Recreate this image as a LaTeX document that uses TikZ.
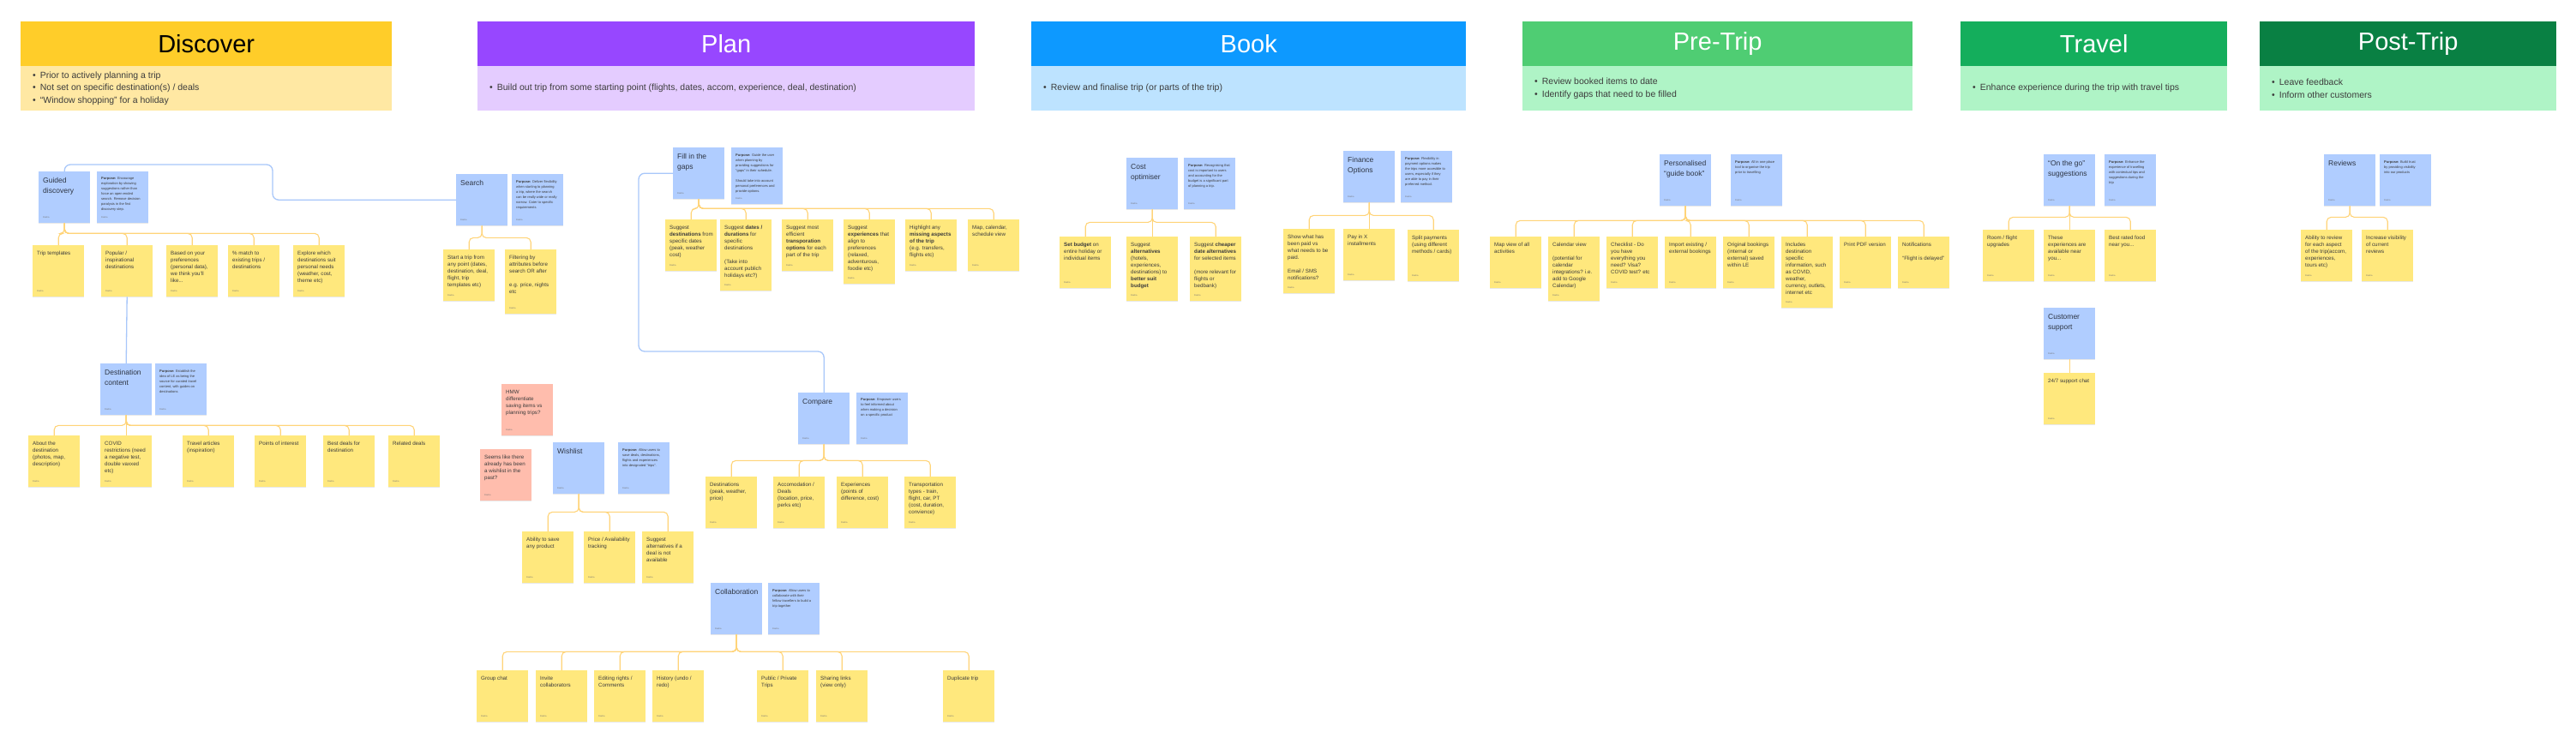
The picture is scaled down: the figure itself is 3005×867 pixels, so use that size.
\documentclass[tikz,border=0pt]{standalone}
\usepackage{fontspec}
\setmainfont{Liberation Sans}
\usetikzlibrary{shadows}
\definecolor{stY}{RGB}{255,232,125}
\definecolor{stB}{RGB}{176,205,255}
\definecolor{stS}{RGB}{255,189,173}
\definecolor{conY}{RGB}{255,212,120}
\definecolor{conB}{RGB}{168,199,250}
\definecolor{txtc}{RGB}{60,60,60}
\definecolor{ttlc}{RGB}{45,52,66}
\definecolor{dY}{RGB}{255,205,41}\definecolor{lY}{RGB}{255,232,163}
\definecolor{dP}{RGB}{151,71,255}\definecolor{lP}{RGB}{228,204,255}
\definecolor{dB}{RGB}{13,153,255}\definecolor{lB}{RGB}{189,227,255}
\definecolor{dG1}{RGB}{79,205,115}\definecolor{dG2}{RGB}{20,174,92}
\definecolor{dG3}{RGB}{9,128,67}\definecolor{lG}{RGB}{175,244,198}
\newcommand{\stk}[7]{%
  \node[stick,#2,minimum height=#6pt,anchor=north west] (#1) at (#4,-#5) {};
  \node[#3,anchor=north west] (#1t) at ([xshift=5pt,yshift=-7pt]#1.north west) {#7};
  \node[dasha,anchor=south west] (#1d) at ([xshift=5pt,yshift=6pt]#1.south west) {Dasha};
}
\newcommand{\ycon}[3]{\draw[yc] (#1.south) -- ++(0,-#3) -| (#2.north);}
\newcommand{\hdr}[8]{%
  \node[fill=#4, minimum width=#3pt, minimum height=52pt, inner sep=0pt, anchor=north west, text=#7, font=\fontsize{29}{34}\selectfont] (#1) at (#2,-25) {#6};
  \node[fill=#5, minimum width=#3pt, minimum height=52pt, inner sep=0pt, anchor=north west] (#1b) at (#2,-77) {};
  \node[anchor=west, align=left, inner sep=0pt, font=\fontsize{10.5}{14.5}\selectfont, text=txtc] (#1l) at ([xshift=14pt]#1b.west) {#8};
}
\newcommand{\bul}{\textbullet\hspace{5pt}}
\begin{document}
\begin{tikzpicture}[x=1pt,y=1pt,
  stick/.style={draw=none, inner sep=0pt, minimum width=60pt, drop shadow={shadow xshift=0pt, shadow yshift=-1pt, opacity=0.18}},
  yel/.style={fill=stY}, blu/.style={fill=stB}, sal/.style={fill=stS},
  ntxt/.style={inner sep=0pt, align=left, text=txtc, font=\fontsize{6.2}{8}\selectfont},
  ttxt/.style={inner sep=0pt, align=left, text=ttlc, font=\fontsize{8.5}{12}\selectfont},
  ptxt/.style={inner sep=0pt, align=left, text=txtc, font=\fontsize{4}{6}\selectfont},
  dasha/.style={inner sep=0pt, text=black!55, font=\fontsize{2.5}{3}\selectfont},
  yc/.style={draw=conY, line width=1.1pt, rounded corners=5pt},
  bc/.style={draw=conB, line width=1.3pt, rounded corners=7pt}]
\fill[white] (0,0) rectangle (3005,-867);
\useasboundingbox (0,0) rectangle (3005,-867);

% ---------- headers
\hdr{hD}{24}{433}{dY}{lY}{Discover}{black}{\bul Prior to actively planning a trip\\\bul Not set on specific destination(s) / deals\\\bul ``Window shopping'' for a holiday}
\hdr{hP}{557}{580}{dP}{lP}{Plan}{white}{\bul Build out trip from some starting point (flights, dates, accom, experience, deal, destination)}
\hdr{hB}{1203}{507}{dB}{lB}{Book}{white}{\bul Review and finalise trip (or parts of the trip)}
\hdr{hR}{1776}{455}{dG1}{lG}{Pre-Trip}{white}{\bul Review booked items to date\\\bul Identify gaps that need to be filled}
\hdr{hT}{2287}{311}{dG2}{lG}{Travel}{white}{\bul Enhance experience during the trip with travel tips}
\hdr{hO}{2636}{346}{dG3}{lG}{Post-Trip}{white}{\bul Leave feedback\\\bul Inform other customers}

% ---------- connectors (drawn first)
\coordinate (bk1) at (318,-192);
\coordinate (bk2) at (745,-410);

% ---------- Discover
\stk{GD}{blu}{ttxt}{45}{200}{60}{Guided\\discovery}
\stk{GDp}{blu}{ptxt}{113}{200}{60}{\textbf{Purpose:} Encourage\\exploration by showing\\suggestions rather than\\force an open-ended\\search. Remove decision\\paralysis in the first\\discovery step.}
\stk{d1}{yel}{ntxt}{38}{286}{60}{Trip templates}
\stk{d2}{yel}{ntxt}{118}{286}{60}{Popular /\\inspirational\\destinations}
\stk{d3}{yel}{ntxt}{194}{286}{60}{Based on your\\preferences\\(personal data),\\we think you'll\\like...}
\stk{d4}{yel}{ntxt}{266}{286}{60}{\% match to\\existing trips /\\destinations}
\stk{d5}{yel}{ntxt}{342}{286}{60}{Explore which\\destinations suit\\personal needs\\(weather, cost,\\theme etc)}
\stk{DC}{blu}{ttxt}{117}{424}{60}{Destination\\content}
\stk{DCp}{blu}{ptxt}{181}{424}{60}{\textbf{Purpose:} Establish the\\idea of LE as being the\\source for curated travel\\content, with guides on\\destinations}
\stk{e1}{yel}{ntxt}{33}{508}{60}{About the\\destination\\(photos, map,\\description)}
\stk{e2}{yel}{ntxt}{117}{508}{60}{COVID\\restrictions (need\\a negative test,\\double vaxxed\\etc)}
\stk{e3}{yel}{ntxt}{213}{508}{60}{Travel articles\\(inspiration)}
\stk{e4}{yel}{ntxt}{297}{508}{60}{Points of interest}
\stk{e5}{yel}{ntxt}{377}{508}{60}{Best deals for\\destination}
\stk{e6}{yel}{ntxt}{453}{508}{60}{Related deals}

% ---------- Plan
\stk{SR}{blu}{ttxt}{532}{203}{60}{Search}
\stk{SRp}{blu}{ptxt}{597}{203}{60}{\textbf{Purpose:} Deliver flexibility\\when starting to planning\\a trip, where the search\\can be really wide or really\\narrow. Cater to specific\\requirements}
\stk{s1}{yel}{ntxt}{517}{291}{60}{Start a trip from\\any point (dates,\\destination, deal,\\flight, trip\\templates etc)}
\stk{s2}{yel}{ntxt}{589}{291}{75}{Filtering by\\attributes before\\search OR after\\[8pt]e.g. price, nights\\etc}
\stk{FG}{blu}{ttxt}{785}{172}{60}{Fill in the\\gaps}
\stk{FGp}{blu}{ptxt}{853}{172}{66}{\textbf{Purpose:} Guide the user\\when planning by\\providing suggestions for\\``gaps'' in their schedule.\\[6pt]Should take into account\\personal preferences and\\provide options.}
\stk{f1}{yel}{ntxt}{776}{256}{60}{Suggest\\\textbf{destinations} from\\specific dates\\(peak, weather\\cost)}
\stk{f2}{yel}{ntxt}{840}{256}{83}{Suggest \textbf{dates /}\\\textbf{durations} for\\specific\\destinations\\[8pt](Take into\\account publich\\holidays etc?)}
\stk{f3}{yel}{ntxt}{912}{256}{60}{Suggest most\\efficient\\\textbf{transporation}\\\textbf{options} for each\\part of the trip}
\stk{f4}{yel}{ntxt}{984}{256}{75}{Suggest\\\textbf{experiences} that\\align to\\preferences\\(relaxed,\\adventurous,\\foodie etc)}
\stk{f5}{yel}{ntxt}{1056}{256}{60}{Highlight any\\\textbf{missing aspects}\\\textbf{of the trip}\\(e.g. transfers,\\flights etc)}
\stk{f6}{yel}{ntxt}{1129}{256}{60}{Map, calendar,\\schedule view}
\stk{HM}{sal}{ntxt}{585}{448}{60}{HMW\\differentiate\\saving items vs\\planning trips?}
\stk{SL}{sal}{ntxt}{560}{524}{60}{Seems like there\\already has been\\a wishlist in the\\past?}
\stk{WL}{blu}{ttxt}{645}{516}{60}{Wishlist}
\stk{WLp}{blu}{ptxt}{721}{516}{60}{\textbf{Purpose:} Allow users to\\save deals, destinations,\\flights and experiences\\into designated ``trips''.}
\stk{w1}{yel}{ntxt}{609}{620}{60}{Ability to save\\any product}
\stk{w2}{yel}{ntxt}{681}{620}{60}{Price / Availability\\tracking}
\stk{w3}{yel}{ntxt}{749}{620}{60}{Suggest\\alternatives if a\\deal is not\\available}
\stk{CP}{blu}{ttxt}{931}{458}{60}{Compare}
\stk{CPp}{blu}{ptxt}{999}{458}{60}{\textbf{Purpose:} Empower users\\to feel informed about\\when making a decision\\on a specific product}
\stk{c1}{yel}{ntxt}{823}{556}{60}{Destinations\\(peak, weather,\\price)}
\stk{c2}{yel}{ntxt}{902}{556}{60}{Accomodation /\\Deals\\(location, price,\\perks etc)}
\stk{c3}{yel}{ntxt}{976}{556}{60}{Experiences\\(points of\\difference, cost)}
\stk{c4}{yel}{ntxt}{1055}{556}{60}{Transportation\\types - train,\\flight, car, PT\\(cost, duration,\\convience)}
\stk{CL}{blu}{ttxt}{829}{680}{60}{Collaboration}
\stk{CLp}{blu}{ptxt}{896}{680}{60}{\textbf{Purpose:} Allow users to\\collaborate with their\\fellow travellers to build a\\trip together}
\stk{g1}{yel}{ntxt}{556}{782}{60}{Group chat}
\stk{g2}{yel}{ntxt}{625}{782}{60}{Invite\\collaborators}
\stk{g3}{yel}{ntxt}{693}{782}{60}{Editing rights /\\Comments}
\stk{g4}{yel}{ntxt}{761}{782}{60}{History (undo /\\redo)}
\stk{g5}{yel}{ntxt}{883}{782}{60}{Public / Private\\Trips}
\stk{g6}{yel}{ntxt}{952}{782}{60}{Sharing links\\(view only)}
\stk{g7}{yel}{ntxt}{1100}{782}{60}{Duplicate trip}

% ---------- Book
\stk{CO}{blu}{ttxt}{1314}{184}{60}{Cost\\optimiser}
\stk{COp}{blu}{ptxt}{1381}{184}{60}{\textbf{Purpose:} Recognising that\\cost is important to users\\and accounting for the\\budget is a significant part\\of planning a trip.}
\stk{b1}{yel}{ntxt}{1236}{276}{60}{\textbf{Set budget} on\\entire holiday or\\individual items}
\stk{b2}{yel}{ntxt}{1314}{276}{75}{Suggest\\\textbf{alternatives}\\(hotels,\\experiences,\\destinations) to\\\textbf{better suit}\\\textbf{budget}}
\stk{b3}{yel}{ntxt}{1388}{276}{75}{Suggest \textbf{cheaper}\\\textbf{date alternatives}\\for selected items\\[8pt](more relevant for\\flights or\\bedbank)}
\stk{FO}{blu}{ttxt}{1567}{176}{60}{Finance\\Options}
\stk{FOp}{blu}{ptxt}{1634}{176}{60}{\textbf{Purpose:} Flexibility in\\payment options makes\\the trips more accesible to\\users, especially if they\\are able to pay in their\\preferred method.}
\stk{h1}{yel}{ntxt}{1497}{267}{75}{Show what has\\been paid vs\\what needs to be\\paid.\\[8pt]Email / SMS\\notifications?}
\stk{h2}{yel}{ntxt}{1567}{267}{60}{Pay in X\\installments}
\stk{h3}{yel}{ntxt}{1642}{268}{60}{Split payments\\(using different\\methods / cards)}

% ---------- Pre-Trip
\stk{PG}{blu}{ttxt}{1936}{180}{60}{Personalised\\``guide book''}
\stk{PGp}{blu}{ptxt}{2019}{180}{60}{\textbf{Purpose:} All in one place\\tool to organise the trip\\prior to travelling}
\stk{p1}{yel}{ntxt}{1738}{276}{60}{Map view of all\\activities}
\stk{p2}{yel}{ntxt}{1806}{276}{75}{Calendar view\\[8pt](potential for\\calendar\\integrations? i.e.\\add to Google\\Calendar)}
\stk{p3}{yel}{ntxt}{1874}{276}{60}{Checklist - Do\\you have\\everything you\\need? Visa?\\COVID test? etc}
\stk{p4}{yel}{ntxt}{1942}{276}{60}{Import existing /\\external bookings}
\stk{p5}{yel}{ntxt}{2010}{276}{60}{Original bookings\\(internal or\\external) saved\\within LE}
\stk{p6}{yel}{ntxt}{2078}{276}{83}{Includes\\destination\\specific\\information, such\\as COVID,\\weather,\\currency, outlets,\\internet etc}
\stk{p7}{yel}{ntxt}{2146}{276}{60}{Print PDF version}
\stk{p8}{yel}{ntxt}{2214}{276}{60}{Notifications\\[8pt]``Flight is delayed''}

% ---------- Travel
\stk{OG}{blu}{ttxt}{2384}{180}{60}{``On the go''\\suggestions}
\stk{OGp}{blu}{ptxt}{2455}{180}{60}{\textbf{Purpose:} Enhance the\\experience of travelling\\with contextual tips and\\suggestions during the\\trip}
\stk{t1}{yel}{ntxt}{2313}{268}{60}{Room / flight\\upgrades}
\stk{t2}{yel}{ntxt}{2384}{268}{60}{These\\experiences are\\available near\\you...}
\stk{t3}{yel}{ntxt}{2455}{268}{60}{Best rated food\\near you...}
\stk{CS}{blu}{ttxt}{2384}{359}{60}{Customer\\support}
\stk{t4}{yel}{ntxt}{2384}{435}{60}{24/7 support chat}

% ---------- Post-Trip
\stk{RV}{blu}{ttxt}{2711}{180}{60}{Reviews}
\stk{RVp}{blu}{ptxt}{2776}{180}{60}{\textbf{Purpose:} Build trust\\by providing visibility\\into our products}
\stk{r1}{yel}{ntxt}{2684}{268}{60}{Ability to review\\for each aspect\\of the trip(accom,\\experiences,\\tours etc)}
\stk{r2}{yel}{ntxt}{2755}{268}{60}{Increase visibility\\of current\\reviews}

% ---------- connectors
\begin{scope}[on background layer/.style={}]
\foreach \c in {d1,d2,d3,d4,d5} {\ycon{GD}{\c}{12}}
\foreach \c in {e1,e2,e3,e4,e5,e6} {\ycon{DC}{\c}{12}}
\foreach \c in {s1,s2} {\ycon{SR}{\c}{14}}
\foreach \c in {f1,f2,f3,f4,f5,f6} {\ycon{FG}{\c}{11}}
\foreach \c in {w1,w2,w3} {\ycon{WL}{\c}{21}}
\foreach \c in {c1,c2,c3,c4} {\ycon{CP}{\c}{19}}
\foreach \c in {g1,g2,g3,g4,g5,g6,g7} {\ycon{CL}{\c}{20}}
\foreach \c in {b1,b2,b3} {\ycon{CO}{\c}{15}}
\foreach \c in {h1,h2,h3} {\ycon{FO}{\c}{15}}
\foreach \c in {p1,p2,p3,p4,p5,p6,p7,p8} {\ycon{PG}{\c}{17}}
\foreach \c in {t1,t2,t3} {\ycon{OG}{\c}{13}}
\foreach \c in {r1,r2} {\ycon{RV}{\c}{13}}
\draw[yc] (CS.south) -- (t4.north);
\draw[bc] (GD.north) |- (bk1) |- (SR.west);
\draw[bc] (d2.south) -- (DC.north);
\draw[bc] (FG.west) -| (bk2) -| (CP.north);
\end{scope}
\end{tikzpicture}
\end{document}
